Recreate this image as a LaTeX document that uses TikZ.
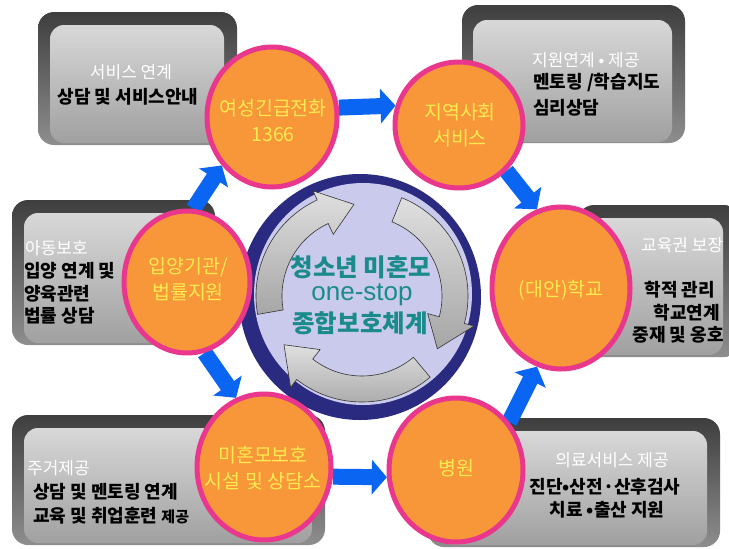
\documentclass[tikz,border=0pt]{standalone}
\usepackage{fontspec}
\setmainfont{Noto Sans CJK KR}
\newfontfamily\lat{Liberation Sans}
\usetikzlibrary{shapes.geometric,arrows.meta,fit}
\pgfdeclarelayer{boxes}
\pgfdeclarelayer{arrs}
\pgfsetlayers{boxes,arrs,main}
\definecolor{orng}{HTML}{F8963A}
\definecolor{mag}{HTML}{E8378C}
\definecolor{ylw}{HTML}{FFEB50}
\definecolor{blu}{HTML}{0A66F2}
\definecolor{navy}{HTML}{2A2B80}
\definecolor{lav}{HTML}{CACBEC}
\definecolor{tealtxt}{HTML}{1A8A8A}
\definecolor{boxdark}{HTML}{3E3E3E}
\definecolor{boxmid}{HTML}{8E8E8E}
\definecolor{facetop}{HTML}{D8D8D8}
\definecolor{facebot}{HTML}{A0A0A0}
\begin{document}
\begin{tikzpicture}[x=1pt,y=-1pt,
  hub/.style={ellipse, draw=mag, line width=5pt, fill=orng, inner sep=0pt},
  hubtxt/.style={align=center, text=ylw, inner sep=0pt, font=\fontsize{19.5}{26}\selectfont},
  barrow/.style={draw=blu, line width=16pt, -{Triangle[width=34pt,length=15pt]}},
  outerbox/.style={rounded corners=16pt, top color=boxdark, bottom color=boxmid, draw=none, inner sep=0pt},
  facebox/.style={rounded corners=14pt, top color=facetop, bottom color=facebot, draw=none, inner sep=0pt},
  ttl/.style={text=white, inner sep=0pt, font=\fontsize{17}{20}\selectfont},
  bdy/.style={text=black, inner sep=0pt, font=\bfseries\fontsize{18}{20}\selectfont},
  ctr/.style={text=tealtxt, inner sep=0pt, font=\bfseries\fontsize{24.5}{28}\selectfont},
  swirl/.style={top color=gray!25, bottom color=gray!70, draw=gray!40!black, line width=0.6pt}
]
\useasboundingbox (0,0) rectangle (729,549);

% ---------- boxes ----------
\begin{pgfonlayer}{boxes}
\fill[white] (0,0) rectangle (729,549);
\node[outerbox, fit={(38,12)(237,145)}] (b1) {};
\node[facebox, fit={(50,25)(224,143)}] (b1f) {};
\node[outerbox, fit={(462,5)(685,143)}] (b2) {};
\node[facebox, fit={(473,20)(672,142)}] (b2f) {};
\node[outerbox, fit={(12,200)(215,345)}] (b3) {};
\node[facebox, fit={(24,213)(202,343)}] (b3f) {};
\node[outerbox, fit={(578,205)(740,357)}] (b4) {};
\node[facebox, fit={(590,218)(723,355)}] (b4f) {};
\node[outerbox, fit={(12,415)(325,545)}] (b5) {};
\node[facebox, fit={(24,428)(312,543)}] (b5f) {};
\node[outerbox, fit={(428,418)(720,547)}] (b6) {};
\node[facebox, fit={(440,431)(707,545)}] (b6f) {};
\end{pgfonlayer}

% ---------- centre ----------
\node[ellipse, fill=navy, minimum width=242pt, minimum height=246pt, inner sep=0pt] (hubc) at (360,297) {};
\node[ellipse, fill=lav, minimum width=218pt, minimum height=222pt, inner sep=0pt] (hubi) at (363,294) {};
\begin{scope}[shift={(362,296)}, yscale=-1]
\foreach \s/\e in {190/115, 68/-15, -50/-128}{
  \path[swirl] (\s:106) arc[start angle=\s, end angle=\e, radius=106]
     -- (\e:116) -- ({\e-20}:92) -- (\e:68) -- (\e:80)
     arc[start angle=\e, end angle=\s, radius=80] -- cycle;
}
\end{scope}
\node[ctr] (ct1) at (361,267) {청소년 미혼모};
\node[text=tealtxt, inner sep=0pt, font=\lat\fontsize{26}{28}\selectfont] (ct2) at (362,295) {one-stop};
\node[ctr] (ct3) at (360,323) {종합보호체계};

% ---------- hubs ----------
\node[hub, minimum width=130pt, minimum height=140pt] (c1) at (272,117) {};
\node[hub, minimum width=128pt, minimum height=126pt] (c2) at (459,125) {};
\node[hub, minimum width=138pt, minimum height=162pt] (c3) at (561,288) {};
\node[hub, minimum width=134pt, minimum height=144pt] (c4) at (456,470) {};
\node[hub, minimum width=134pt, minimum height=146pt] (c5) at (264,467) {};
\node[hub, minimum width=126pt, minimum height=142pt] (c6) at (187,282) {};

\node[hubtxt] (c1t) at (273,121) {여성긴급전화\\1366};
\node[hubtxt] (c2t) at (460,125) {지역사회\\서비스};
\node[hubtxt] (c3t) at (561,290) {(대안)학교};
\node[hubtxt] (c4t) at (456,468) {병원};
\node[hubtxt] (c5t) at (263,468) {미혼모보호\\시설 및 상담소};
\node[hubtxt] (c6t) at (188,279) {입양기관/\\법률지원};

% ---------- blue arrows ----------
\begin{pgfonlayer}{arrs}
\draw[barrow] (c1.8) -- (c2.163);
\draw[barrow] (c2.-44) -- (c3.107);
\draw[barrow] (c4.42) -- (c3.253);
\draw[barrow] (c5.-8) -- (c4.186);
\draw[barrow] (c6.-76) -- (c5.112);
\draw[barrow] (c6.85) -- (c1.224);
\end{pgfonlayer}

% ---------- box texts ----------
\node[ttl] (t1a) at (131,72) {서비스 연계};
\node[bdy] (t1b) at (128,97) {상담 및 서비스안내};

\node[ttl, anchor=west] (t2a) at (532,60) {지원연계 • 제공};
\node[bdy, anchor=west] (t2b) at (533,83) {멘토링 /학습지도};
\node[bdy, anchor=west] (t2c) at (533,108) {심리상담};

\node[ttl, anchor=west] (t3a) at (25,248) {아동보호};
\node[bdy, anchor=west] (t3b) at (24,271) {입양 연계 및};
\node[bdy, anchor=west] (t3c) at (24,294) {양육관련};
\node[bdy, anchor=west] (t3d) at (24,316) {법률 상담};

\node[ttl, anchor=west] (t4a) at (641,245) {교육권 보장};
\node[bdy, anchor=east] (t4b) at (715,290) {학적 관리};
\node[bdy, anchor=east] (t4c) at (720,313) {학교연계};
\node[bdy, anchor=east] (t4d) at (724,335) {중재 및 옹호};

\node[ttl, anchor=west] (t5a) at (27,468) {주거제공};
\node[bdy, anchor=west] (t5b) at (33,492) {상담 및 멘토링 연계};
\node[bdy, anchor=west] (t5c) at (33,516) {교육 및 취업훈련 {\fontsize{15}{16}\selectfont 제공}};

\node[ttl] (t6a) at (612,460) {의료서비스 제공};
\node[bdy] (t6b) at (605,487) {진단•산전·산후검사};
\node[bdy] (t6c) at (607,510) {치료 •출산 지원};
\end{tikzpicture}
\end{document}
